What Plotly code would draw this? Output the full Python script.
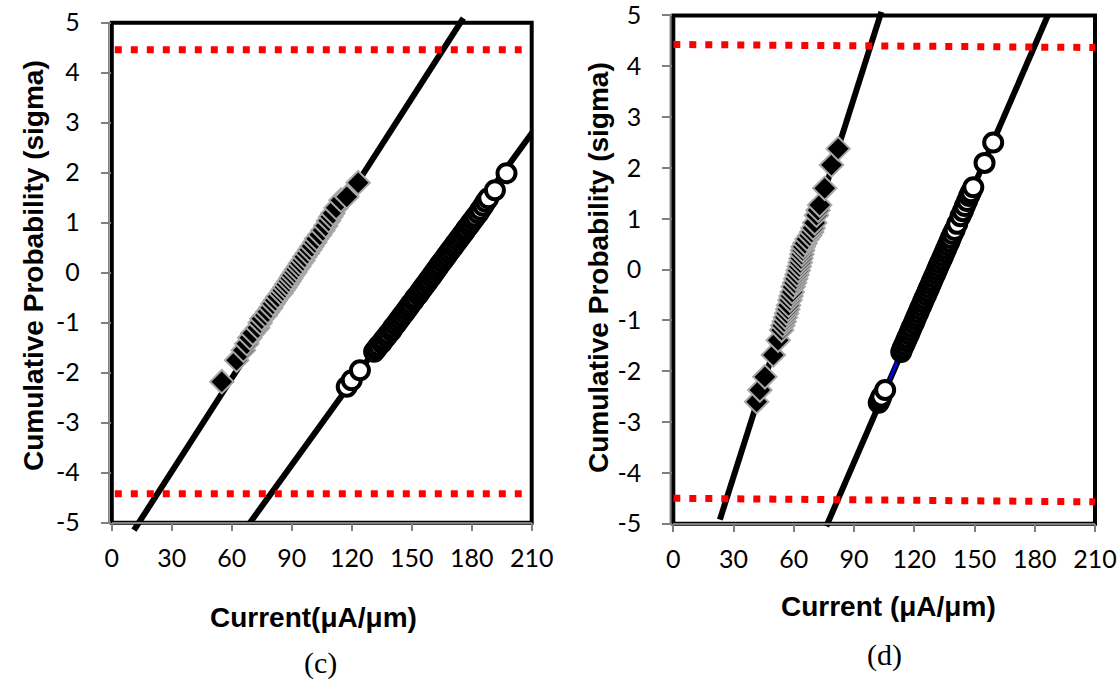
import plotly.graph_objects as go

W, H = 1120, 683

# ---------------- panel (c) data ----------------
c_dia_sig = [-2.18, -1.75, -1.55, -1.42, -1.30, -1.21, -1.10, -1.00, -0.92, -0.85, -0.78, -0.70,
             -0.62, -0.55, -0.48, -0.41, -0.35, -0.29, -0.23, -0.17, -0.11, -0.05, 0.01, 0.07,
             0.13, 0.19, 0.25, 0.32, 0.39, 0.46, 0.53, 0.61, 0.68, 0.76, 0.85, 0.94, 1.04, 1.12,
             1.19, 1.30, 1.45, 1.52, 1.80]
c_dia_cur = [55.0, 62.4, 65.8, 67.5, 69.0, 70.5, 73.0, 74.2, 75.0, 76.8, 78.0, 79.5,
             80.6, 81.8, 83.0, 84.6, 85.5, 86.6, 87.5, 88.6, 89.5, 90.4, 91.5, 92.4,
             93.5, 94.4, 95.6, 96.5, 97.8, 99.0, 100.1, 101.5, 102.4, 104.0, 105.6, 107.0, 108.4, 109.5,
             110.6, 112.2, 114.6, 117.5, 123.2]

c_cir_sig = [-2.28, -2.15, -1.95, -1.58, -1.52, -1.46, -1.40, -1.34, -1.28, -1.22, -1.16, -1.10,
             -1.04, -0.98, -0.92, -0.86, -0.80, -0.74, -0.68, -0.62, -0.56, -0.50, -0.44, -0.38,
             -0.32, -0.26, -0.20, -0.14, -0.08, -0.02, 0.04, 0.10, 0.16, 0.22, 0.28, 0.34, 0.40,
             0.46, 0.52, 0.58, 0.64, 0.70, 0.76, 0.82, 0.88, 0.94, 1.00, 1.06, 1.12, 1.19, 1.26,
             1.34, 1.42, 1.49, 1.65, 1.99]
c_cir_cur = [117.5, 120.0, 124.1, 131.2, 132.4, 133.5, 135.0, 136.0, 137.3, 138.4, 139.8, 140.6,
             141.9, 143.0, 144.1, 145.2, 146.4, 147.5, 148.6, 149.6, 150.9, 151.8, 153.2, 154.2,
             155.3, 156.4, 157.6, 158.6, 159.8, 160.8, 161.9, 163.0, 164.0, 165.2, 166.3, 167.4, 168.5,
             169.6, 170.8, 171.8, 173.0, 174.1, 175.2, 176.4, 177.3, 178.6, 179.6, 180.8, 181.9, 183.3, 184.4,
             185.8, 187.0, 188.3, 191.6, 197.4]

c_fit_dia_cur = [11.1, 175.8]
c_fit_dia_sig = [-5.15, 5.09]
c_fit_cir_cur = [69.1, 212.0]
c_fit_cir_sig = [-5.0, 2.9]

c_spec_cur = [1.5, 205.0]
c_spec_hi = [4.46, 4.46]
c_spec_lo = [-4.42, -4.42]

# ---------------- panel (d) data ----------------
d_dia_sig = [-2.60, -2.37, -2.11, -1.68, -1.39, -1.19, -1.10, -1.02, -0.94, -0.86, -0.78, -0.70,
             -0.60, -0.52, -0.44, -0.34, -0.26, -0.18, -0.10, -0.02, 0.06, 0.14, 0.22, 0.30,
             0.38, 0.45, 0.52, 0.60, 0.67, 0.74, 0.82, 0.92, 1.07, 1.17, 1.27, 1.60, 2.06, 2.38]
d_dia_cur = [41.5, 43.1, 45.6, 49.8, 52.2, 53.9, 54.5, 55.2, 55.8, 56.4, 57.0, 57.4,
             58.1, 58.6, 59.2, 59.7, 60.4, 61.0, 61.6, 62.2, 62.7, 63.2, 63.6, 64.0,
             64.4, 64.7, 65.6, 66.6, 67.9, 68.9, 69.6, 70.4, 71.3, 72.1, 72.9, 75.4, 78.8, 82.1]

d_cir_sig = [-2.62, -2.56, -2.50, -2.37, -1.62, -1.55, -1.48, -1.41, -1.34, -1.27, -1.20, -1.13,
             -1.06, -0.99, -0.92, -0.85, -0.78, -0.71, -0.64, -0.57, -0.50, -0.43, -0.36, -0.29,
             -0.22, -0.15, -0.08, -0.01, 0.06, 0.13, 0.20, 0.27, 0.34, 0.41, 0.48, 0.55, 0.62,
             0.70, 0.78, 0.90, 1.05, 1.15, 1.25, 1.35, 1.45, 1.52, 1.62, 2.10, 2.50]
d_cir_cur = [102.3, 103.0, 103.6, 105.5, 113.5, 114.2, 115.0, 115.8, 116.5, 117.4, 118.1, 118.8,
             119.7, 120.4, 121.2, 122.0, 122.7, 123.5, 124.3, 125.0, 125.9, 126.6, 127.4, 128.2,
             128.9, 129.7, 130.5, 131.3, 132.0, 132.8, 133.6, 134.4, 135.2, 135.9, 136.7, 137.5, 138.2,
             139.1, 140.1, 141.4, 143.0, 144.2, 145.2, 146.3, 147.3, 148.2, 149.4, 155.0, 159.3]

d_fit_dia_cur = [23.2, 103.6]
d_fit_dia_sig = [-4.92, 5.07]
d_fit_cir_cur = [76.2, 186.5]
d_fit_cir_sig = [-5.05, 5.0]

d_spec_cur = [0.0, 210.0]
d_spec_hi = [4.43, 4.37]
d_spec_lo = [-4.50, -4.57]

x_ticks = [0, 30, 60, 90, 120, 150, 180, 210]
y_ticks = [-5, -4, -3, -2, -1, 0, 1, 2, 3, 4, 5]
y_tick_text = ["-5", "-4", "-3", "-2", "-1", "0", "1", "2", "3", "4", "5"]

# ---------------- styles ----------------
FIT = dict(color="black", width=6)
RED = dict(color="#ff0000", width=7, dash="7px,9px")
DIA = dict(symbol="diamond", size=18, color="black", line=dict(color="#a8a8a8", width=2))
CIR = dict(symbol="circle", size=18, color="white", line=dict(color="black", width=4))

fig = go.Figure()


def add_panel(xa, ya, fd, fc, dia, cir, spec, blue=None):
    fig.add_trace(go.Scatter(x=fd[0], y=fd[1], mode="lines", line=FIT, xaxis=xa, yaxis=ya))
    fig.add_trace(go.Scatter(x=fc[0], y=fc[1], mode="lines", line=FIT, xaxis=xa, yaxis=ya))
    if blue is not None:
        fig.add_trace(go.Scatter(x=blue[0], y=blue[1], mode="lines",
                                 line=dict(color="#0000ff", width=2.5), xaxis=xa, yaxis=ya))
    fig.add_trace(go.Scatter(x=dia[0], y=dia[1], mode="markers", marker=DIA, xaxis=xa, yaxis=ya))
    fig.add_trace(go.Scatter(x=cir[0], y=cir[1], mode="markers", marker=CIR, xaxis=xa, yaxis=ya))
    fig.add_trace(go.Scatter(x=spec[0], y=spec[1], mode="lines", line=RED, xaxis=xa, yaxis=ya))
    fig.add_trace(go.Scatter(x=spec[0], y=spec[2], mode="lines", line=RED, xaxis=xa, yaxis=ya))


add_panel("x", "y", (c_fit_dia_cur, c_fit_dia_sig), (c_fit_cir_cur, c_fit_cir_sig),
          (c_dia_cur, c_dia_sig), (c_cir_cur, c_cir_sig), (c_spec_cur, c_spec_hi, c_spec_lo))
add_panel("x2", "y2", (d_fit_dia_cur, d_fit_dia_sig), (d_fit_cir_cur, d_fit_cir_sig),
          (d_dia_cur, d_dia_sig), (d_cir_cur, d_cir_sig), (d_spec_cur, d_spec_hi, d_spec_lo),
          blue=(d_cir_cur[3:5], d_cir_sig[3:5]))

# pixel geometry of the two frames
L = dict(x0=111.8, x1=531.7, ytop=22.7, ybot=522.7)
R = dict(x0=673.3, x1=1095.0, ytop=15.5, ybot=523.7)


def px(v):
    return v / W


def py(v):
    return 1 - v / H


def ydomain(g):
    per = (g["ybot"] - g["ytop"]) / 10.0
    top = g["ytop"] - 0.25 * per
    bot = g["ybot"] + 0.25 * per
    return [py(bot), py(top)]


TICKFONT = dict(family="Lato, Carlito, sans-serif", size=25, color="black")

xcommon = dict(range=[0, 210], tickvals=x_ticks, showgrid=False, zeroline=False, automargin=False,
               showline=True, linecolor="#7f7f7f", linewidth=1.5, ticks="outside", ticklen=8,
               tickcolor="#7f7f7f", tickwidth=1.5, tickfont=TICKFONT, anchor="free",
               ticklabelstandoff=6, ticklabeloverflow="allow")
ycommon = dict(range=[-5.25, 5.25], tickvals=y_ticks, ticktext=y_tick_text, showgrid=False,
               zeroline=False, automargin=False,
               showline=False, ticks="outside", ticklen=10, tickcolor="#7f7f7f", tickwidth=1.5,
               tickfont=TICKFONT, ticklabelstandoff=16, ticklabeloverflow="allow")

fig.update_layout(
    template="none",
    width=W, height=H, margin=dict(l=0, r=0, t=0, b=0, autoexpand=False),
    paper_bgcolor="white", plot_bgcolor="rgba(0,0,0,0)", showlegend=False,
    xaxis=dict(domain=[px(L["x0"]), px(L["x1"])], position=py(L["ybot"]), **xcommon),
    yaxis=dict(domain=ydomain(L), anchor="x", **ycommon),
    xaxis2=dict(domain=[px(R["x0"]), px(R["x1"])], position=py(R["ybot"]), **xcommon),
    yaxis2=dict(domain=ydomain(R), anchor="x2", **ycommon),
)

for g in (L, R):
    fig.add_shape(type="rect", xref="paper", yref="paper",
                  x0=px(g["x0"]), x1=px(g["x1"]), y0=py(g["ybot"]), y1=py(g["ytop"]),
                  line=dict(color="black", width=4), layer="below")
    fig.add_shape(type="line", xref="paper", yref="paper",
                  x0=px(g["x0"] - 3), x1=px(g["x0"] - 3), y0=py(g["ybot"]), y1=py(g["ytop"]),
                  line=dict(color="#7f7f7f", width=1.5), layer="below")

TITLE = dict(family="Arial, Liberation Sans, sans-serif", size=28, color="black")
CAP = dict(family="Times New Roman, Liberation Serif, serif", size=30, color="black")

ann = [
    dict(text="<b>Cumulative Probability (sigma)</b>", x=px(33), y=py(266), textangle=-90, font=TITLE),
    dict(text="<b>Cumulative Probability (sigma)</b>", x=px(598), y=py(268), textangle=-90, font=TITLE),
    dict(text="<b>Current(μA/μm)</b>", x=px(313), y=py(617), font=TITLE),
    dict(text="<b>Current (μA/μm)</b>", x=px(888), y=py(606), font=TITLE),
    dict(text="(c)", x=px(320), y=py(663), font=CAP),
    dict(text="(d)", x=px(884), y=py(655), font=CAP),
]
for a in ann:
    fig.add_annotation(xref="paper", yref="paper", showarrow=False,
                       xanchor="center", yanchor="middle", **a)

fig.write_html("out.html", config={"displayModeBar": False},
               post_script="document.body.style.margin='0px';")
